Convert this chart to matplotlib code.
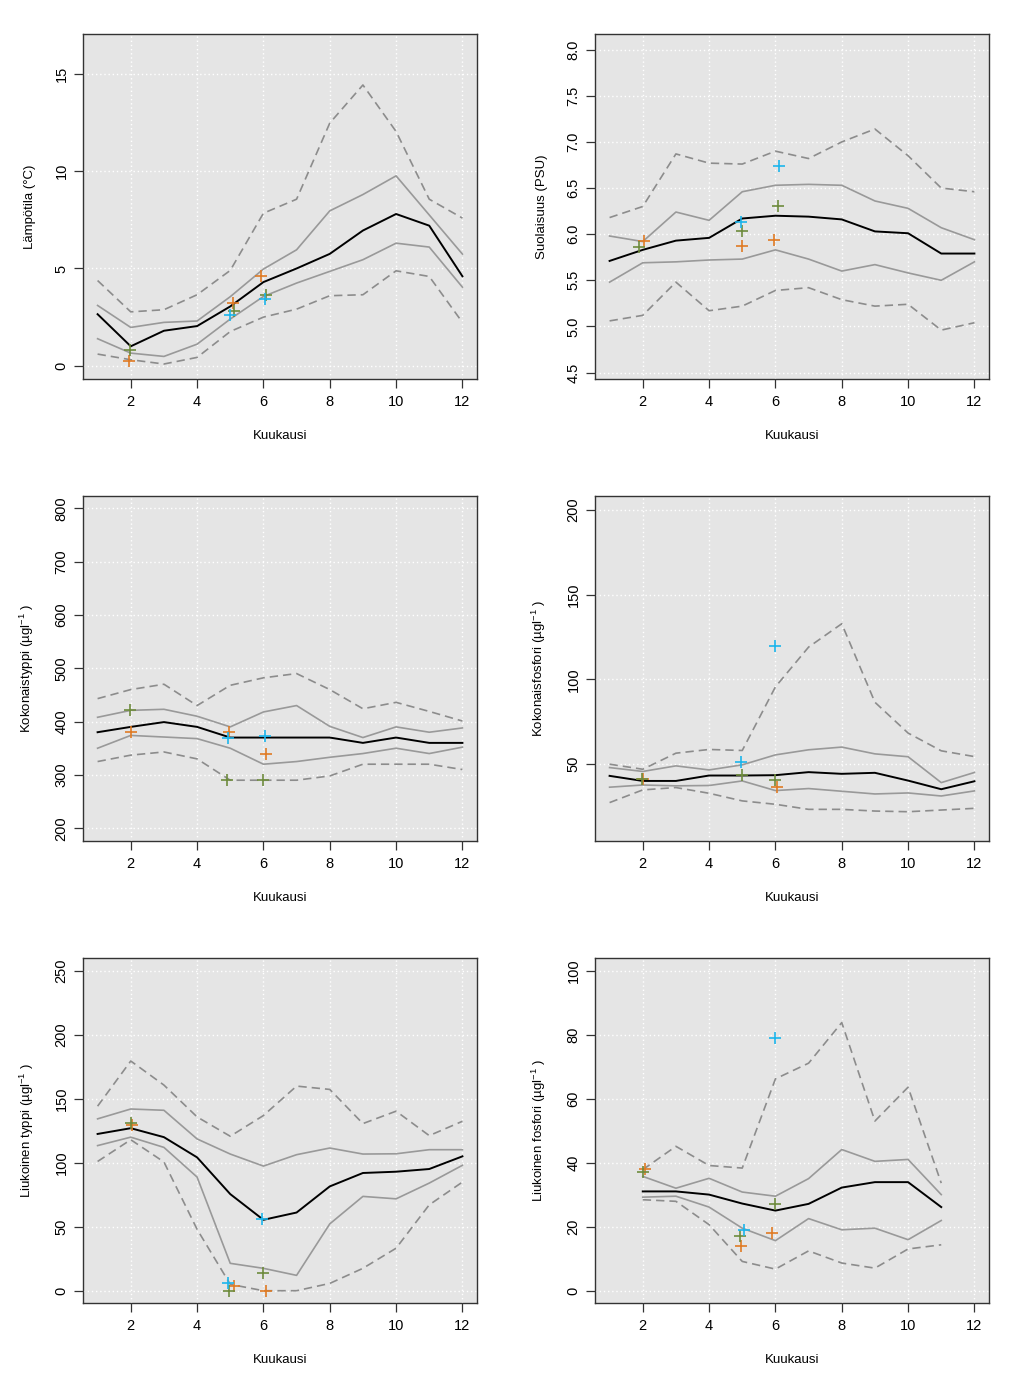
import matplotlib
matplotlib.use("Agg")
import matplotlib.pyplot as plt

plt.rcParams['font.family'] = ['Liberation Sans', 'DejaVu Sans']
plt.rcParams['mathtext.default'] = 'regular'

months = list(range(1, 13))
months_dp = list(range(2, 12))

# Lämpötila
temp_med = [2.65, 1.0, 1.8, 2.04, 3.05, 4.3, 5.0, 5.75, 6.95, 7.8, 7.2, 4.6]
temp_q75 = [3.1, 1.97, 2.23, 2.3, 3.55, 4.97, 5.96, 7.96, 8.8, 9.76, 7.75, 5.74]
temp_q25 = [1.39, 0.65, 0.48, 1.11, 2.4, 3.56, 4.25, 4.85, 5.45, 6.3, 6.1, 4.04]
temp_hi = [4.38, 2.77, 2.88, 3.65, 4.9, 7.84, 8.56, 12.47, 14.43, 12.04, 8.56, 7.59]
temp_lo = [0.6, 0.31, 0.09, 0.43, 1.76, 2.5, 2.91, 3.6, 3.65, 4.88, 4.59, 2.23]
temp_or_x = [1.96, 5.08, 5.94]
temp_or_y = [0.22, 3.22, 4.59]
temp_gr_x = [1.98, 5.1, 6.09]
temp_gr_y = [0.82, 2.84, 3.65]
temp_cy_x = [4.99, 6.06]
temp_cy_y = [2.62, 3.42]

# Suolaisuus
sal_med = [5.71, 5.83, 5.93, 5.96, 6.17, 6.2, 6.19, 6.16, 6.03, 6.01, 5.79, 5.79]
sal_q75 = [5.98, 5.92, 6.24, 6.15, 6.46, 6.53, 6.54, 6.53, 6.36, 6.28, 6.07, 5.94]
sal_q25 = [5.48, 5.69, 5.7, 5.72, 5.73, 5.83, 5.73, 5.6, 5.67, 5.58, 5.5, 5.7]
sal_hi = [6.18, 6.3, 6.87, 6.77, 6.76, 6.9, 6.82, 7.0, 7.14, 6.85, 6.5, 6.46]
sal_lo = [5.06, 5.12, 5.48, 5.17, 5.22, 5.39, 5.42, 5.29, 5.22, 5.24, 4.96, 5.04]
sal_or_x = [2.03, 5.0, 5.97]
sal_or_y = [5.93, 5.87, 5.94]
sal_gr_x = [1.9, 5.0, 6.07]
sal_gr_y = [5.86, 6.03, 6.31]
sal_cy_x = [4.95, 6.1]
sal_cy_y = [6.13, 6.74]

# Kokonaistyppi
tn_med = [380, 390, 399, 390, 370, 370, 370, 370, 360, 370, 360, 360]
tn_q75 = [408, 421, 423, 410, 390, 418, 430, 391, 370, 390, 380, 388]
tn_q25 = [350, 374, 371, 368, 350, 320, 325, 333, 340, 350, 340, 352]
tn_hi = [443, 460, 470, 430, 468, 482, 490, 460, 424, 436, 419, 401]
tn_lo = [325, 337, 343, 330, 290, 290, 290, 298, 320, 320, 320, 310]
tn_or_x = [2.02, 4.97, 6.07]
tn_or_y = [380, 380, 340]
tn_gr_x = [1.97, 4.9, 6.0]
tn_gr_y = [421, 290, 290]
tn_cy_x = [4.92, 6.05]
tn_cy_y = [370, 372]

# Kokonaisfosfori
tp_med = [42.9, 39.9, 39.9, 43.1, 43.1, 43.3, 45.1, 44.1, 44.7, 40.1, 35.0, 39.7]
tp_q75 = [47.8, 45.5, 48.8, 46.4, 49.4, 55.3, 58.3, 59.9, 55.9, 54.2, 38.9, 44.9]
tp_q25 = [36.2, 37.5, 37.0, 37.2, 39.9, 34.2, 35.4, 33.8, 32.2, 32.8, 31.0, 34.0]
tp_hi = [49.8, 46.8, 56.3, 58.5, 57.9, 95.5, 119, 132.8, 86.4, 68.2, 57.7, 54.3]
tp_lo = [27.1, 34.6, 36.0, 32.6, 28.1, 26.1, 23.1, 23.1, 22.1, 21.7, 22.7, 23.7]
tp_or_x = [2.0, 6.05]
tp_or_y = [40.9, 36.6]
tp_gr_x = [1.98, 5.0, 6.0]
tp_gr_y = [41.0, 43.5, 40.5]
tp_cy_x = [4.97, 6.0]
tp_cy_y = [51.0, 119.6]

# Liukoinen typpi
dn_med = [122.5, 127, 120, 104.2, 75.5, 55.4, 61.1, 81.5, 92, 93, 95.1, 105]
dn_q75 = [134.3, 142, 141, 118.6, 106.8, 97.4, 106.3, 111.5, 106.8, 107, 110.2, 110.2]
dn_q25 = [113.4, 120, 112, 88.8, 21.4, 17.5, 12, 52.2, 73.7, 71.8, 84.1, 98]
dn_hi = [144.2, 179.5, 160.7, 135.8, 120.7, 136.9, 159.9, 157.3, 130.6, 140.3, 121.2, 132.4]
dn_lo = [101, 118, 100.6, 48, 5, 0, 0, 5.7, 17.5, 33.2, 67.1, 84.9]
dn_or_x = [2.05, 5.1, 6.07]
dn_or_y = [129.8, 3.9, 0]
dn_gr_x = [2.0, 4.95, 6.0]
dn_gr_y = [131, 0, 14.1]
dn_cy_x = [4.92, 5.97]
dn_cy_y = [6.3, 55.9]

# Liukoinen fosfori (kuukaudet 2-11)
dp_med = [31.0, 31.0, 30.0, 27.2, 25.0, 27.1, 32.2, 33.9, 33.9, 26.1]
dp_q75 = [35.7, 32.0, 35.1, 30.8, 29.5, 35.0, 44.1, 40.4, 41.0, 30.0]
dp_q25 = [29.2, 29.5, 26.1, 19.5, 15.6, 22.5, 19.0, 19.5, 15.9, 21.9]
dp_hi = [37.8, 45.1, 39.1, 38.3, 66.2, 71.1, 83.8, 53.0, 63.6, 33.6]
dp_lo = [28.4, 27.9, 20.6, 9.1, 6.7, 12.4, 8.6, 7.0, 13.0, 14.3]
dp_or_x = [2.08, 4.95, 5.9]
dp_or_y = [38.0, 14.0, 18.0]
dp_gr_x = [2.0, 4.92, 6.0]
dp_gr_y = [37.0, 17.1, 27.1]
dp_cy_x = [5.05, 6.0]
dp_cy_y = [19.0, 79.1]

ORANGE = '#E07B24'
GREEN = '#6E8B3D'
CYAN = '#1CB5EC'

panels = [
    dict(x=months, med=temp_med, q75=temp_q75, q25=temp_q25, hi=temp_hi, lo=temp_lo,
         pts=[(temp_or_x, temp_or_y, ORANGE), (temp_gr_x, temp_gr_y, GREEN), (temp_cy_x, temp_cy_y, CYAN)],
         ylim=(-0.68, 17.05), yticks=[0, 5, 10, 15], fmt='{:g}', ylabel='Lämpötila (°C)'),
    dict(x=months, med=sal_med, q75=sal_q75, q25=sal_q25, hi=sal_hi, lo=sal_lo,
         pts=[(sal_or_x, sal_or_y, ORANGE), (sal_gr_x, sal_gr_y, GREEN), (sal_cy_x, sal_cy_y, CYAN)],
         ylim=(4.43, 8.17), yticks=[4.5, 5.0, 5.5, 6.0, 6.5, 7.0, 7.5, 8.0], fmt='{:.1f}',
         ylabel='Suolaisuus (PSU)'),
    dict(x=months, med=tn_med, q75=tn_q75, q25=tn_q25, hi=tn_hi, lo=tn_lo,
         pts=[(tn_or_x, tn_or_y, ORANGE), (tn_gr_x, tn_gr_y, GREEN), (tn_cy_x, tn_cy_y, CYAN)],
         ylim=(176, 823), yticks=[200, 300, 400, 500, 600, 700, 800], fmt='{:g}',
         ylabel='Kokonaistyppi (µgl$^{-1}$ )'),
    dict(x=months, med=tp_med, q75=tp_q75, q25=tp_q25, hi=tp_hi, lo=tp_lo,
         pts=[(tp_or_x, tp_or_y, ORANGE), (tp_gr_x, tp_gr_y, GREEN), (tp_cy_x, tp_cy_y, CYAN)],
         ylim=(4.4, 208.3), yticks=[50, 100, 150, 200], fmt='{:g}',
         ylabel='Kokonaisfosfori (µgl$^{-1}$ )'),
    dict(x=months, med=dn_med, q75=dn_q75, q25=dn_q25, hi=dn_hi, lo=dn_lo,
         pts=[(dn_or_x, dn_or_y, ORANGE), (dn_gr_x, dn_gr_y, GREEN), (dn_cy_x, dn_cy_y, CYAN)],
         ylim=(-9.6, 260), yticks=[0, 50, 100, 150, 200, 250], fmt='{:g}',
         ylabel='Liukoinen typpi (µgl$^{-1}$ )'),
    dict(x=months_dp, med=dp_med, q75=dp_q75, q25=dp_q25, hi=dp_hi, lo=dp_lo,
         pts=[(dp_or_x, dp_or_y, ORANGE), (dp_gr_x, dp_gr_y, GREEN), (dp_cy_x, dp_cy_y, CYAN)],
         ylim=(-3.9, 104), yticks=[0, 20, 40, 60, 80, 100], fmt='{:g}',
         ylabel='Liukoinen fosfori (µgl$^{-1}$ )'),
]

fig = plt.figure(figsize=(10.24, 13.87), dpi=100)
lefts = [83 / 1024, 595 / 1024]
bottoms = [1 - 379 / 1387, 1 - 841 / 1387, 1 - 1303 / 1387]
w = 394 / 1024
h = 345 / 1387

for i, p in enumerate(panels):
    ax = fig.add_axes([lefts[i % 2], bottoms[i // 2], w, h])
    ax.set_facecolor('#E5E5E5')
    ax.set_xlim(0.56, 12.44)
    ax.set_ylim(*p['ylim'])
    xt = [2, 4, 6, 8, 10, 12]
    ax.set_xticks(xt)
    ax.set_xticklabels([str(v) for v in xt])
    ax.set_yticks(p['yticks'])
    ax.set_yticklabels([p['fmt'].format(v) for v in p['yticks']], rotation=90, va='center')
    for v in xt:
        ax.axvline(v, color='white', lw=1.0, ls=(0, (1, 2)), zorder=1)
    for v in p['yticks']:
        ax.axhline(v, color='white', lw=1.0, ls=(0, (1, 2)), zorder=1)

    ax.plot(p['x'], p['hi'], color='#8C8C8C', lw=1.2, dashes=(5, 3), zorder=2)
    ax.plot(p['x'], p['lo'], color='#8C8C8C', lw=1.2, dashes=(5, 3), zorder=2)
    ax.plot(p['x'], p['q75'], color='#999999', lw=1.2, zorder=2)
    ax.plot(p['x'], p['q25'], color='#999999', lw=1.2, zorder=2)
    ax.plot(p['x'], p['med'], color='black', lw=1.4, zorder=3)
    for px, py, c in p['pts']:
        ax.plot(px, py, ls='none', marker='+', ms=9, mew=1.2, color=c, zorder=4)

    for s in ax.spines.values():
        s.set_color('#333333')
        s.set_linewidth(1.0)
    ax.tick_params(direction='out', length=6.5, width=0.9, color='#333333',
                   labelsize=10.5, pad=5)
    ax.tick_params(axis='y', pad=4)
    ax.set_xlabel('Kuukausi', fontsize=9.5, labelpad=15)
    ax.set_ylabel(p['ylabel'], fontsize=9.5, labelpad=13)

fig.savefig('out.png', dpi=100)
